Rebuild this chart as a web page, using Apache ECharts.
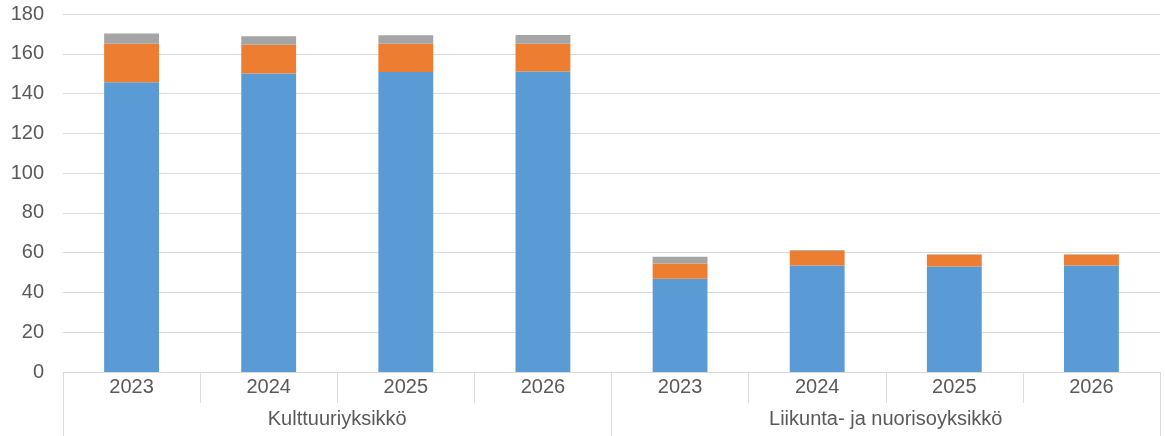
<!DOCTYPE html>
<html>
<head>
<meta charset="utf-8">
<script src="https://cdn.jsdelivr.net/npm/echarts@6/dist/echarts.min.js"></script>
<style>html,body{margin:0;padding:0;background:#fff}#c{width:1165px;height:436px}</style>
</head>
<body>
<div id="c"></div>
<script>
const years = ['2023','2024','2025','2026','2023','2024','2025','2026'];
const groups = ['Kulttuuriyksikkö','Liikunta- ja nuorisoyksikkö'];
const yTicks = {min: 0, max: 180, interval: 20};
const seriesBlue = [145.7, 150.1, 150.9, 151.1, 46.9, 53.6, 53.1, 53.6];
const seriesOrange = [19.4, 14.4, 14.1, 14.0, 7.7, 7.4, 5.8, 5.3];
const seriesGray = [5.1, 4.3, 4.3, 4.4, 3.3, 0.3, 0.3, 0.3];

const font = 'Liberation Sans, Arial, sans-serif';
const txt = '#595959';
const chart = echarts.init(document.getElementById('c'));
const mk = (name, data, color) => ({
  name, type: 'bar', stack: 'a', data, barWidth: '40%',
  itemStyle: {color}, xAxisIndex: 0
});
chart.setOption({
  animation: false,
  grid: {left: 63, right: 5, top: 14, bottom: 64, containLabel: false},
  xAxis: [
    {
      type: 'category', data: years, position: 'bottom',
      axisLine: {show: true, lineStyle: {color: '#d9d9d9', width: 1}},
      axisTick: {show: true, alignWithLabel: false, length: 31, lineStyle: {color: '#d9d9d9'}},
      axisLabel: {color: txt, fontSize: 20, fontFamily: font, margin: 5}
    },
    {
      type: 'category', data: groups, position: 'bottom', offset: 0,
      axisLine: {show: false},
      axisTick: {show: true, length: 64, lineStyle: {color: '#d9d9d9'}},
      axisLabel: {color: txt, fontSize: 20, fontFamily: font, margin: 37}
    }
  ],
  yAxis: {
    type: 'value', min: yTicks.min, max: yTicks.max, interval: yTicks.interval,
    axisLine: {show: false}, axisTick: {show: false},
    splitLine: {lineStyle: {color: '#d9d9d9', width: 1}},
    axisLabel: {color: txt, fontSize: 20, fontFamily: font, margin: 19}
  },
  series: [
    mk('Sarja1', seriesBlue, '#5B9BD5'),
    mk('Sarja2', seriesOrange, '#ED7D31'),
    mk('Sarja3', seriesGray, '#A5A5A5')
  ]
});
</script>
</body>
</html>
